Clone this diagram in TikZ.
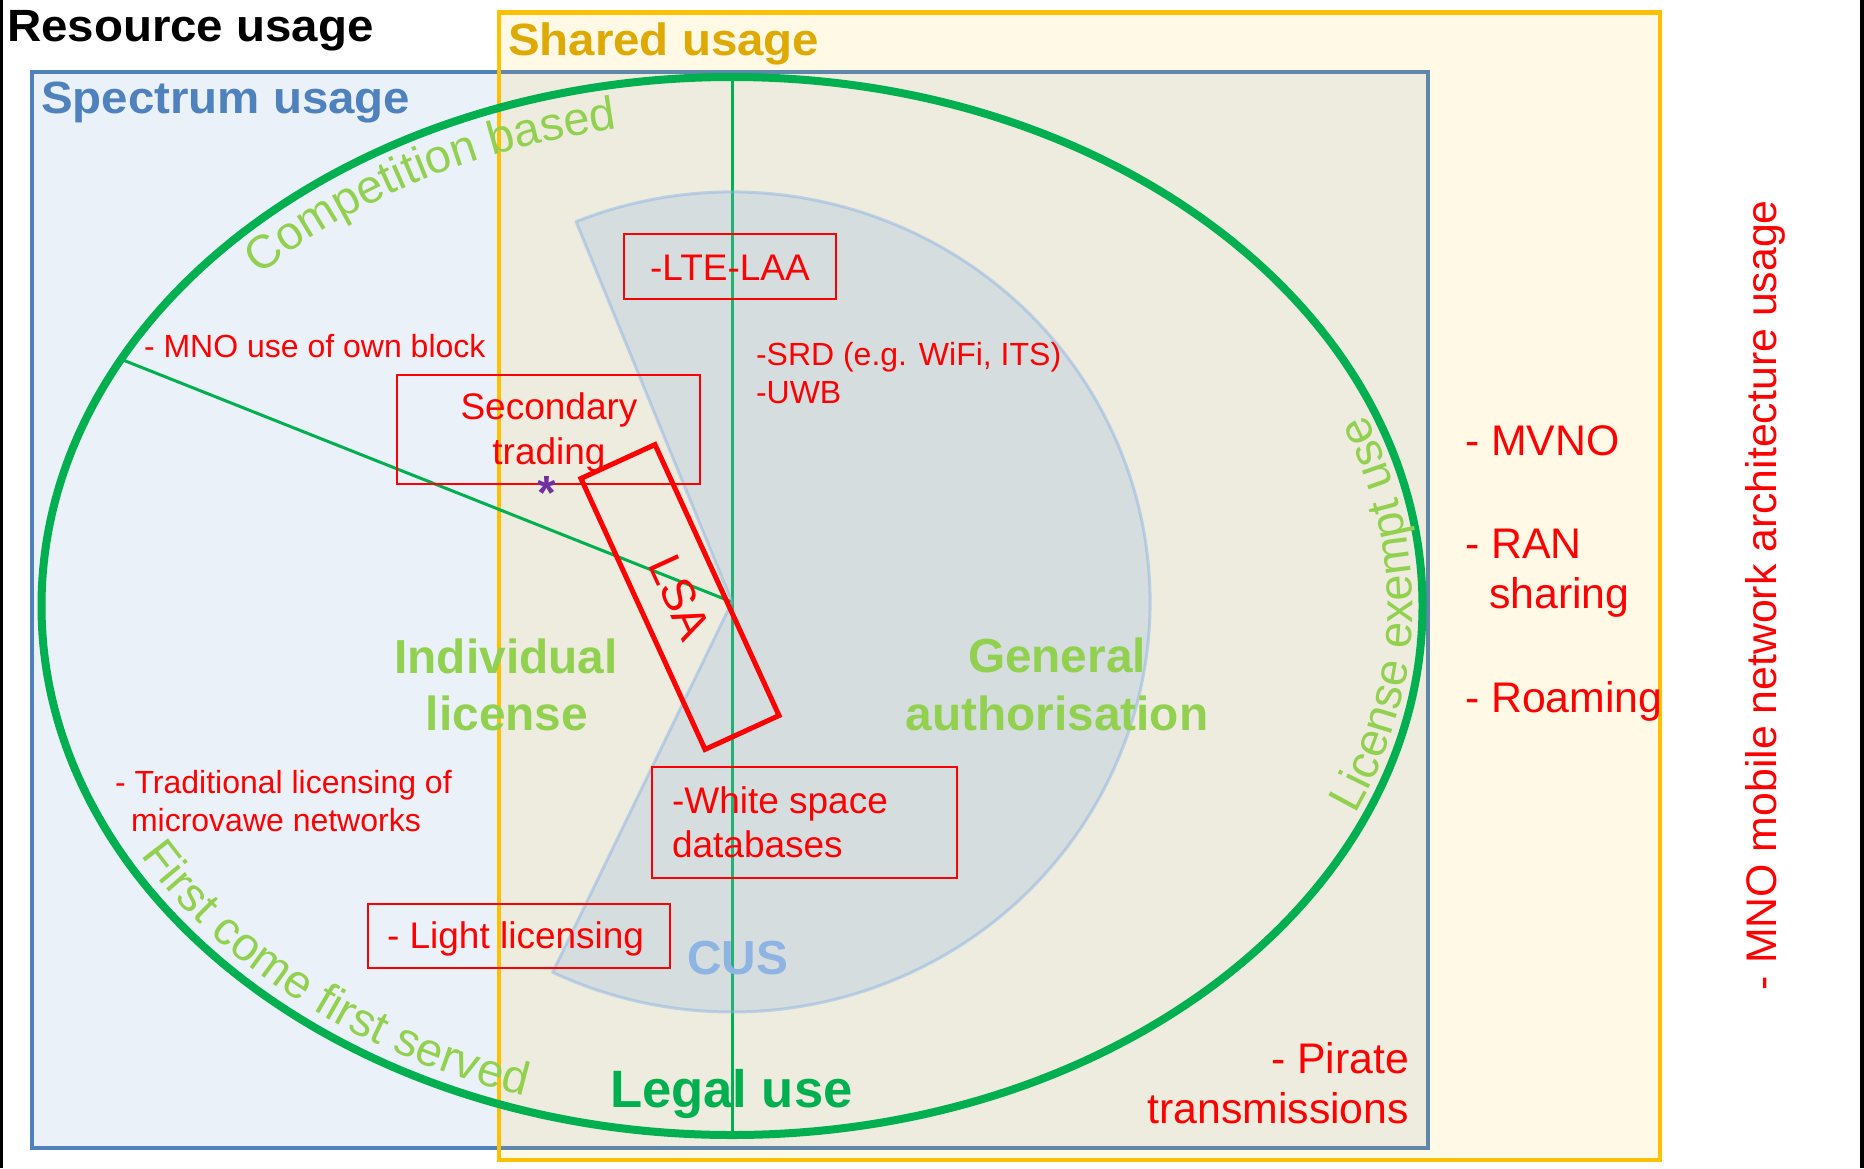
\documentclass[tikz,border=0pt]{standalone}
\usepackage{fontspec}
\setmainfont{Liberation Sans}
\newfontfamily\titlefamily[FakeStretch=1.05]{Liberation Sans}
\usetikzlibrary{calc,decorations.text}

\definecolor{specblue}{HTML}{4F81BD}
\definecolor{specfill}{HTML}{EBF1F8}
\definecolor{shareyel}{HTML}{FFC000}
\definecolor{sharetxt}{HTML}{DEA900}
\definecolor{legalgreen}{HTML}{00B050}
\definecolor{lightgreen}{HTML}{92D050}
\definecolor{cusblue}{HTML}{8EB4E3}
\definecolor{mnored}{HTML}{FF0000}
\definecolor{starpurple}{HTML}{7030A0}

\newcommand\arcfont{\color{lightgreen}\fontsize{23.5}{28}\selectfont}

\begin{document}
\begin{tikzpicture}[x=0.5pt,y=-0.5pt,
  every node/.style={inner sep=0pt, outer sep=0pt},
  title/.style={anchor=base west, font=\titlefamily\bfseries\fontsize{22.6}{27}\selectfont},
  smallred/.style={anchor=base west, text=mnored, font=\fontsize{16}{19}\selectfont},
  boxred/.style={text=mnored, font=\fontsize{18.5}{22}\selectfont},
  bigred/.style={text=mnored, font=\fontsize{21.4}{26}\selectfont},
  region/.style={anchor=base, text=lightgreen, font=\bfseries\fontsize{23.9}{28}\selectfont},
  redbox/.style={draw=mnored, line width=0.85pt},
  arctext/.style={decorate, decoration={text along path, text={|\arcfont|#1}}},
]
\useasboundingbox (0,0) rectangle (1864,1168);

% side bars of the slide
\fill[black] (0,0) rectangle (3,1168);
\fill[black] (1860,0) rectangle (1864,1168);

% spectrum usage frame
\draw[draw=specblue, fill=specfill, line width=2pt] (32,72) rectangle (1427.5,1148);

% shared usage frame (translucent fill)
\fill[shareyel, fill opacity=0.1] (499,12.5) rectangle (1660,1160);
\draw[shareyel, line width=2.2pt] (499,12.5) rectangle (1660,1160);

% legal use ellipse and its dividers
\coordinate (E) at (732,606);
\coordinate (hub) at (732,602);
\coordinate (etop) at (732,77);
\coordinate (ebot) at (732,1135);
\coordinate (eleft) at ($(E)+(-152.2:690.5 and 529)$);
\draw[legalgreen, line width=1.5pt] (etop) -- (ebot);
\draw[legalgreen, line width=1.5pt] (eleft) -- (hub);

% CUS sector
\filldraw[fill=cusblue, fill opacity=0.25, draw=cusblue, draw opacity=0.5, line width=1.5pt, line join=round]
  (hub) -- ($(hub)+(-111.9:418 and 410)$)
  arc[start angle=-111.9, end angle=115.4, x radius=418, y radius=410] -- cycle;

\draw[legalgreen, line width=4pt] (E) ellipse[x radius=690.5, y radius=529];

% curved labels along the ellipse
\path[arctext=Competition based]
  ($(E)+(-137:646.5 and 485)$) arc[start angle=-137, end angle=-85, x radius=646.5, y radius=485];
\path[arctext=License exempt use]
  ($(E)+(23.7:680.5 and 519)$) arc[start angle=23.7, end angle=-35, x radius=680.5, y radius=519];
\path[arctext=First come first served]
  ($(E)+(-209:676.5 and 515)$) arc[start angle=-209, end angle=-265, x radius=676.5, y radius=515];

% titles
\node[title] (resource) at (7,41.7) {Resource usage};
\node[title, text=specblue] (spectrum) at (41,113) {Spectrum usage};
\node[title, text=sharetxt] (shared) at (508,55) {Shared usage};

% region labels
\node[region] (indiv1) at (506,673) {Individual};
\node[region] (indiv2) at (507,730) {license};
\node[region] (gen1) at (1057,672) {General};
\node[region] (gen2) at (1057,730) {authorisation};
\node[region, anchor=base west, text=cusblue] (cus) at (687,974) {CUS};
\node[anchor=base west, text=legalgreen, font=\bfseries\fontsize{26.3}{31}\selectfont] (legal) at (610,1107) {Legal use};

% boxed examples
\node[redbox, minimum width=106pt, minimum height=32.5pt] (lteBox) at (730,266.5) {};
\node[boxred, anchor=base] (lte) at (730,280) {-LTE-LAA};
\node[redbox, minimum width=151.5pt, minimum height=54.5pt] (secBox) at (548.5,429.5) {};
\node[boxred, anchor=base] (sec1) at (549,419) {Secondary};
\node[boxred, anchor=base] (sec2) at (549,464) {trading};
\node[redbox, minimum width=152.5pt, minimum height=55.5pt] (wsBox) at (804.5,822.5) {};
\node[boxred, anchor=base west] (ws1) at (672,813) {-White space};
\node[boxred, anchor=base west] (ws2) at (672,857) {databases};
\node[redbox, minimum width=151pt, minimum height=32pt] (llBox) at (519,936) {};
\node[boxred, anchor=base west] (ll) at (387,948) {- Light licensing};

\node[anchor=base, text=starpurple, font=\bfseries\fontsize{24}{28}\selectfont] (star) at (547,509) {*};

% LSA band
\node[draw=mnored, line width=2.5pt, rotate=-65.4, minimum width=149pt, minimum height=40.7pt,
      text=mnored, font=\fontsize{23}{27}\selectfont] (lsa) at (680,597) {LSA};

% plain examples
\node[smallred] (mno) at (144,357) {- MNO use of own block};
\node[smallred] (srd) at (756,365) {-SRD (e.g. WiFi, ITS)};
\node[smallred] (uwb) at (756,403) {-UWB};
\node[smallred] (trad1) at (115,793) {- Traditional licensing of};
\node[smallred] (trad2) at (131,831) {microvawe networks};
\node[bigred, anchor=base east] (pir1) at (1409,1073) {- Pirate};
\node[bigred, anchor=base east] (pir2) at (1409,1123) {transmissions};

% network sharing column
\node[bigred, anchor=base west] (mvno) at (1465,455) {- MVNO};
\node[bigred, anchor=base west] (ran1) at (1465,558) {- RAN};
\node[bigred, anchor=base west] (ran2) at (1489,608) {sharing};
\node[bigred, anchor=base west] (roam) at (1465,712) {- Roaming};
\node[bigred, rotate=90, anchor=base west] (arch) at (1776,990) {- MNO mobile network architecture usage};
\end{tikzpicture}
\end{document}
